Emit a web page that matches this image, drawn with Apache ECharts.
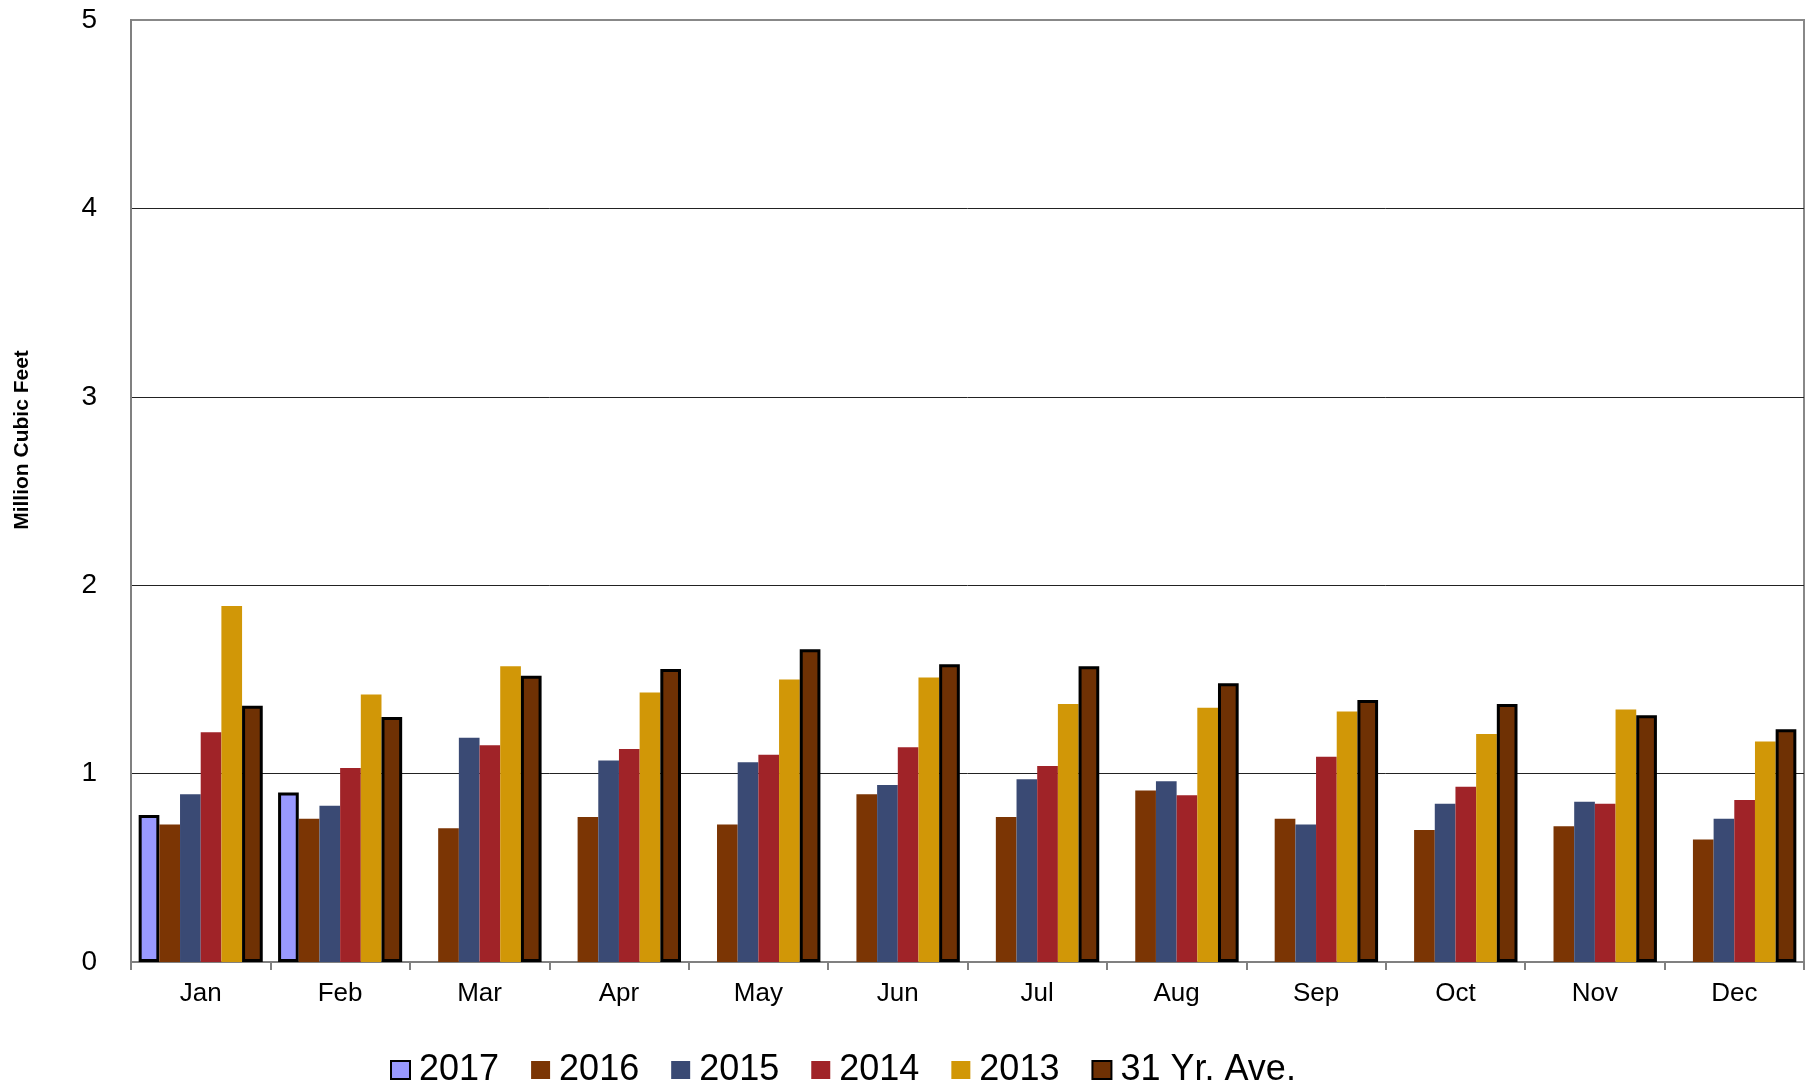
<!DOCTYPE html>
<html>
<head>
<meta charset="utf-8">
<script src="https://cdn.jsdelivr.net/npm/echarts@6/dist/echarts.min.js"></script>
<style>
html,body{margin:0;padding:0;background:#fff;}
#chart{width:1806px;height:1089px;}
</style>
</head>
<body>
<div id="chart"></div>
<script>
var categories = ['Jan','Feb','Mar','Apr','May','Jun','Jul','Aug','Sep','Oct','Nov','Dec'];
var yTicks = [0,1,2,3,4,5];
var s2017 = [0.78, 0.90, null, null, null, null, null, null, null, null, null, null];
var s2016 = [0.73, 0.76, 0.71, 0.77, 0.73, 0.89, 0.77, 0.91, 0.76, 0.70, 0.72, 0.65];
var s2015 = [0.89, 0.83, 1.19, 1.07, 1.06, 0.94, 0.97, 0.96, 0.73, 0.84, 0.85, 0.76];
var s2014 = [1.22, 1.03, 1.15, 1.13, 1.10, 1.14, 1.04, 0.885, 1.09, 0.93, 0.84, 0.86];
var s2013 = [1.89, 1.42, 1.57, 1.43, 1.50, 1.51, 1.37, 1.35, 1.33, 1.21, 1.34, 1.17];
var sAve  = [1.36, 1.30, 1.52, 1.555, 1.66, 1.58, 1.57, 1.48, 1.39, 1.37, 1.31, 1.235];
var seriesNames = ['2017','2016','2015','2014','2013','31 Yr. Ave.'];
var yTitle = 'Million Cubic Feet';

var FONT = 'Liberation Sans, Arial, sans-serif';
var chart = echarts.init(document.getElementById('chart'));

function bar(name, data, color, outlined) {
  var s = {
    name: name, type: 'bar', data: data,
    barGap: '0%', barCategoryGap: '11%',
    itemStyle: { color: color },
    emphasis: { disabled: true }
  };
  if (outlined) {
    s.itemStyle.borderColor = '#000';
    s.itemStyle.borderWidth = 3;
  }
  return s;
}

chart.setOption({
  animation: false,
  backgroundColor: '#fff',
  textStyle: { fontFamily: FONT },
  grid: {
    left: 131, right: 2, top: 20, bottom: 127,
    outerBoundsMode: 'none', containLabel: false,
    show: true, borderColor: '#888', borderWidth: 2, backgroundColor: 'transparent'
  },
  graphic: [{
    type: 'text', x: 22, y: 440, rotation: Math.PI / 2,
    style: { text: yTitle, font: 'bold 21px ' + FONT, fill: '#000', align: 'center', verticalAlign: 'middle' }
  }],
  legend: {
    left: 385, top: 1047, icon: 'rect',
    itemWidth: 19, itemHeight: 18, itemGap: 32,
    textStyle: { fontFamily: FONT, fontSize: 36, color: '#000', padding: [0,0,0,4] },
    data: seriesNames
  },
  xAxis: {
    type: 'category', data: categories,
    axisLine: { lineStyle: { color: '#808080', width: 2 } },
    axisTick: { show: true, length: 8, lineStyle: { color: '#808080', width: 2 } },
    axisLabel: { fontFamily: FONT, fontSize: 26, color: '#000', margin: 19 }
  },
  yAxis: {
    type: 'value', min: yTicks[0], max: yTicks[yTicks.length-1], interval: 1,
    axisLine: { show: true, lineStyle: { color: '#808080', width: 2 } },
    axisTick: { show: false },
    axisLabel: { fontFamily: FONT, fontSize: 28, color: '#000', margin: 34 },
    splitLine: { show: true, showMaxLine: false, lineStyle: { color: '#222', width: 1 } }
  },
  series: [
    bar(seriesNames[0], s2017, '#9999FF', true),
    bar(seriesNames[1], s2016, '#7B3504', false),
    bar(seriesNames[2], s2015, '#3A4A74', false),
    bar(seriesNames[3], s2014, '#A02328', false),
    bar(seriesNames[4], s2013, '#D19707', false),
    bar(seriesNames[5], sAve, '#6F3104', true)
  ]
});
</script>
</body>
</html>
